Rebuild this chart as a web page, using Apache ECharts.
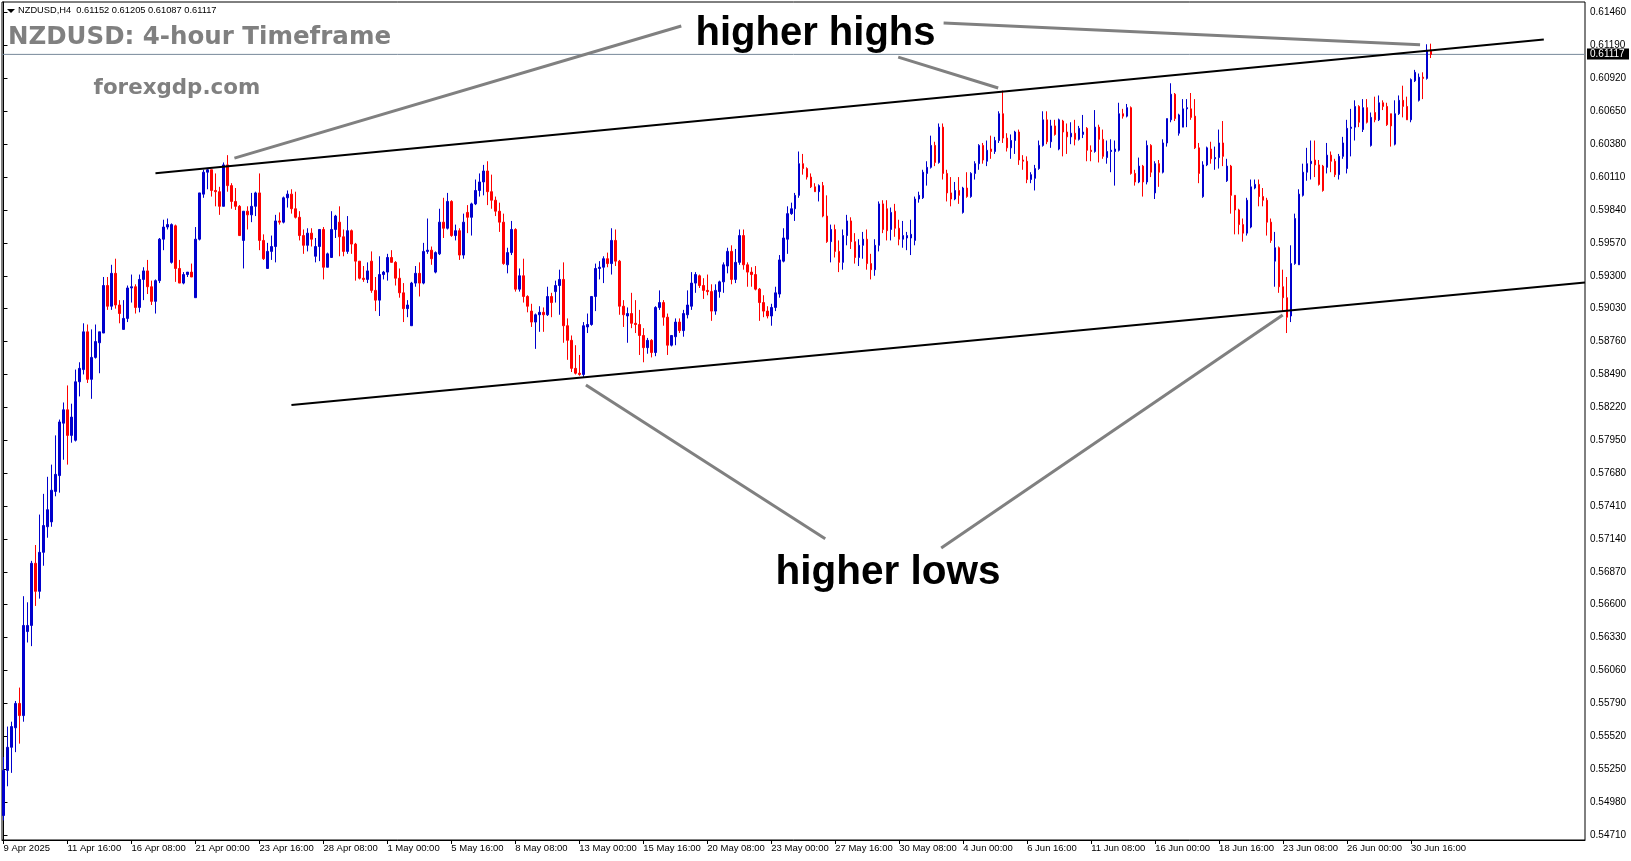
<!DOCTYPE html>
<html><head><meta charset="utf-8">
<script src="https://cdn.jsdelivr.net/npm/echarts@6/dist/echarts.min.js"></script>
<style>html,body{margin:0;padding:0;background:#fff}#c{width:1631px;height:861px}</style>
</head><body><div id="c"></div>
<script>
// ---- data (NZDUSD H4 candles) ----
const opens=[
.5487,.5524,.5543,.5559,.5579,.5569,.5638,.5643,.5694,.5671,
.5703,.5724,.5728,.5753,.5766,.5809,.5820,.5799,.5795,.5843,
.5853,.5884,.5845,.5863,.5875,.5883,.5922,.5905,.5932,.5906,
.5886,.5895,.5920,.5921,.5904,.5927,.5934,.5921,.5909,.5926,
.5960,.5970,.5941,.5971,.5936,.5924,.5931,.5933,.5912,.5960,
.5997,.6015,.6017,.6000,.5999,.5987,.6021,.6004,.5991,.5987,
.5959,.5983,.5980,.5987,.5998,.5959,.5936,.5950,.5954,.5975,
.5974,.5994,.5997,.5985,.5978,.5963,.5955,.5965,.5946,.5954,
.5968,.5937,.5945,.5968,.5974,.5962,.5950,.5967,.5956,.5942,
.5928,.5927,.5942,.5918,.5910,.5931,.5933,.5945,.5941,.5928,
.5916,.5903,.5889,.5924,.5932,.5924,.5950,.5951,.5933,.5948,
.5974,.5969,.5991,.5963,.5967,.5947,.5982,.5978,.5989,.6000,
.6007,.6016,.5999,.5992,.5983,.5974,.5939,.5949,.5968,.5919,
.5930,.5913,.5901,.5892,.5898,.5900,.5898,.5913,.5917,.5922,
.5927,.5889,.5877,.5854,.5850,.5849,.5888,.5890,.5913,.5936,
.5937,.5944,.5940,.5959,.5942,.5905,.5897,.5899,.5891,.5890,
.5881,.5871,.5877,.5867,.5904,.5908,.5896,.5873,.5880,.5892,
.5885,.5898,.5905,.5924,.5930,.5922,.5918,.5917,.5901,.5917,
.5925,.5938,.5950,.5927,.5941,.5963,.5939,.5933,.5931,.5919,
.5908,.5901,.5897,.5904,.5915,.5942,.5960,.5981,.5985,.5996,
.6022,.6018,.6011,.6003,.5999,.6004,.5979,.5958,.5968,.5950,
.5941,.5963,.5975,.5958,.5945,.5955,.5960,.5940,.5935,.5955,
.5989,.5985,.5968,.5983,.5969,.5960,.5961,.5961,.5959,.5993,
.5994,.6014,.6019,.6037,.6023,.6052,.6014,.5998,.5993,.6000,
.5982,.6002,.5995,.6014,.6022,.6037,.6024,.6034,.6032,.6041,
.6063,.6043,.6035,.6041,.6048,.6025,.6024,.6009,.6010,.6018,
.6037,.6058,.6040,.6053,.6034,.6057,.6048,.6044,.6047,.6042,
.6046,.6051,.6033,.6032,.6052,.6042,.6027,.6032,.6032,.6033,
.6063,.6061,.6068,.6014,.6007,.6020,.6007,.6037,.5998,.6022,
.6015,.6039,.6058,.6079,.6047,.6052,.6067,.6067,.6061,.6035,
.5995,.6021,.6034,.6026,.6027,.6039,.6008,.6020,.5996,.5984,
.5972,.5965,.5970,.6002,.6005,.5995,.5992,.5974,.5942,.5953,
.5921,.5912,.5897,.5940,.5939,.5996,.6015,.6022,.6025,.6021,
.6020,.6019,.6029,.6024,.6013,.6028,.6018,.6051,.6052,.6069,
.6050,.6068,.6037,.6064,.6058,.6072,.6069,.6063,.6038,.6063,
.6074,.6069,.6058,.6090,.6074,.6093,.6092,.61152];
const highs=[
.5535,.5560,.5564,.5581,.5592,.5667,.5662,.5696,.5709,.5734,
.5751,.5765,.5775,.5799,.5812,.5826,.5840,.5825,.5853,.5859,
.5891,.5890,.5886,.5890,.5884,.5929,.5929,.5939,.5944,.5910,
.5910,.5922,.5931,.5923,.5931,.5937,.5943,.5926,.5927,.5961,
.5976,.5977,.5973,.5972,.5943,.5933,.5933,.5940,.5970,.5998,
.6017,.6018,.6017,.6014,.6003,.6023,.6029,.6006,.6002,.5988,
.5983,.5987,.5998,.5999,.6014,.5964,.5957,.5963,.5980,.5982,
.5995,.6000,.6001,.5999,.5983,.5968,.5969,.5969,.5961,.5968,
.5970,.5949,.5983,.5980,.5987,.5968,.5979,.5968,.5957,.5942,
.5938,.5941,.5950,.5929,.5946,.5934,.5948,.5951,.5942,.5936,
.5924,.5910,.5925,.5938,.5941,.5957,.5977,.5954,.5950,.5985,
.5994,.5998,.5992,.5972,.5969,.5981,.5988,.5990,.6009,.6014,
.6021,.6024,.6013,.5995,.5990,.5981,.5953,.5975,.5969,.5936,
.5944,.5914,.5907,.5899,.5905,.5904,.5921,.5916,.5926,.5935,
.5941,.5895,.5881,.5873,.5865,.5892,.5899,.5913,.5940,.5942,
.5946,.5949,.5969,.5968,.5943,.5910,.5904,.5916,.5910,.5902,
.5887,.5879,.5878,.5905,.5918,.5910,.5899,.5881,.5895,.5895,
.5902,.5918,.5933,.5933,.5931,.5928,.5931,.5923,.5923,.5926,
.5941,.5953,.5955,.5952,.5968,.5968,.5941,.5937,.5938,.5920,
.5914,.5905,.5907,.5921,.5947,.5969,.5987,.5990,.5998,.6032,
.6030,.6019,.6014,.6006,.6005,.6007,.5996,.5972,.5972,.5959,
.5968,.5980,.5978,.5965,.5960,.5966,.5968,.5948,.5960,.5991,
.5992,.5992,.5986,.5989,.5976,.5975,.5966,.5976,.5995,.5999,
.6017,.6024,.6045,.6040,.6055,.6055,.6017,.6011,.6007,.6011,
.6003,.6015,.6015,.6024,.6038,.6039,.6041,.6045,.6044,.6065,
.6082,.6047,.6046,.6049,.6050,.6029,.6028,.6015,.6021,.6041,
.6065,.6065,.6058,.6058,.6059,.6058,.6055,.6056,.6058,.6053,
.6062,.6052,.6037,.6066,.6054,.6050,.6041,.6042,.6041,.6072,
.6067,.6071,.6069,.6017,.6027,.6021,.6041,.6038,.6024,.6025,
.6042,.6059,.6088,.6080,.6063,.6075,.6075,.6080,.6075,.6039,
.6024,.6036,.6040,.6036,.6050,.6057,.6026,.6021,.5996,.5985,
.5977,.5994,.6009,.6009,.6009,.6002,.5994,.5977,.5966,.5954,
.5935,.5929,.5955,.5981,.6001,.6022,.6035,.6041,.6041,.6025,
.6021,.6039,.6032,.6026,.6030,.6044,.6058,.6067,.6074,.6070,
.6075,.6075,.6064,.6077,.6078,.6074,.6072,.6063,.6074,.6078,
.6086,.6077,.6092,.6099,.6096,.6097,.6120,.61205];
const lows=[
.5483,.5511,.5522,.5539,.5546,.5564,.5629,.5626,.5659,.5665,
.5692,.5715,.5724,.5749,.5752,.5779,.5775,.5793,.5794,.5831,
.5849,.5842,.5829,.5862,.5850,.5883,.5902,.5902,.5903,.5891,
.5886,.5892,.5908,.5899,.5900,.5910,.5915,.5906,.5899,.5924,
.5951,.5968,.5940,.5925,.5924,.5923,.5929,.5929,.5912,.5959,
.5994,.6001,.5995,.5987,.5980,.5987,.5999,.5985,.5984,.5963,
.5936,.5968,.5974,.5979,.5951,.5943,.5936,.5943,.5941,.5972,
.5973,.5986,.5981,.5977,.5959,.5948,.5950,.5954,.5941,.5942,
.5927,.5937,.5945,.5961,.5946,.5946,.5948,.5948,.5926,.5927,
.5925,.5924,.5916,.5901,.5897,.5927,.5926,.5941,.5922,.5912,
.5892,.5896,.5889,.5921,.5913,.5923,.5948,.5939,.5932,.5947,
.5961,.5968,.5962,.5959,.5943,.5944,.5965,.5963,.5988,.5995,
.5996,.5988,.5985,.5979,.5966,.5939,.5932,.5947,.5917,.5917,
.5908,.5900,.5888,.5870,.5884,.5884,.5897,.5896,.5908,.5898,
.5875,.5861,.5851,.5849,.5848,.5847,.5883,.5889,.5901,.5927,
.5924,.5937,.5931,.5938,.5898,.5888,.5875,.5887,.5883,.5865,
.5859,.5866,.5863,.5864,.5902,.5889,.5865,.5872,.5873,.5883,
.5880,.5895,.5902,.5916,.5920,.5911,.5914,.5893,.5898,.5912,
.5916,.5932,.5923,.5924,.5939,.5935,.5921,.5921,.5918,.5893,
.5896,.5895,.5889,.5901,.5912,.5941,.5948,.5980,.5975,.5994,
.6013,.6009,.6002,.5999,.5991,.5978,.5957,.5941,.5945,.5933,
.5935,.5955,.5952,.5940,.5938,.5944,.5935,.5927,.5930,.5950,
.5965,.5959,.5959,.5962,.5955,.5953,.5951,.5947,.5955,.5990,
.5993,.6004,.6018,.6020,.6022,.6009,.5991,.5987,.5992,.5989,
.5981,.5994,.5994,.6009,.6017,.6022,.6020,.6026,.6030,.6039,
.6039,.6032,.6026,.6030,.6021,.6017,.6006,.6006,.6000,.6017,
.6036,.6038,.6035,.6045,.6033,.6028,.6030,.6038,.6037,.6041,
.6043,.6024,.6024,.6031,.6023,.6026,.6022,.6015,.6004,.6032,
.6059,.6060,.6013,.6004,.6006,.5995,.6005,.6011,.5993,.6003,
.6014,.6036,.6056,.6057,.6045,.6052,.6052,.6058,.6034,.6006,
.5994,.6020,.6022,.6017,.6018,.6020,.6007,.5981,.5964,.5964,
.5958,.5963,.5969,.6001,.5987,.5987,.5963,.5957,.5921,.5916,
.5901,.5883,.5892,.5939,.5939,.5995,.6008,.6009,.6011,.6004,
.5999,.6014,.6015,.6011,.6009,.6026,.6014,.6028,.6041,.6052,
.6048,.6055,.6036,.6056,.6057,.6066,.6053,.6036,.6037,.6062,
.6060,.6058,.6056,.6089,.6073,.6075,.6091,.61087];
const closes=[
.5524,.5543,.5560,.5579,.5569,.5643,.5643,.5694,.5671,.5703,
.5725,.5738,.5754,.5767,.5810,.5820,.5799,.5814,.5843,.5854,
.5884,.5845,.5863,.5876,.5884,.5922,.5905,.5932,.5906,.5899,
.5895,.5920,.5921,.5904,.5927,.5934,.5921,.5909,.5926,.5960,
.5970,.5972,.5972,.5936,.5924,.5931,.5933,.5929,.5960,.5998,
.6015,.6017,.6000,.5999,.5987,.6021,.6004,.5991,.5987,.5963,
.5983,.5980,.5987,.5998,.5959,.5944,.5950,.5954,.5975,.5974,
.5994,.5997,.5985,.5978,.5963,.5955,.5965,.5960,.5954,.5968,
.5937,.5948,.5968,.5979,.5962,.5950,.5967,.5956,.5942,.5928,
.5927,.5934,.5918,.5910,.5931,.5933,.5945,.5941,.5928,.5916,
.5903,.5906,.5924,.5932,.5924,.5950,.5951,.5944,.5949,.5974,
.5969,.5991,.5963,.5967,.5947,.5974,.5978,.5989,.6000,.6007,
.6016,.5999,.5992,.5983,.5974,.5940,.5949,.5968,.5919,.5930,
.5913,.5905,.5892,.5898,.5900,.5898,.5913,.5908,.5922,.5927,
.5889,.5877,.5854,.5850,.5849,.5889,.5890,.5913,.5936,.5937,
.5944,.5940,.5959,.5942,.5905,.5898,.5899,.5891,.5890,.5881,
.5871,.5877,.5867,.5904,.5908,.5896,.5873,.5881,.5892,.5885,
.5899,.5906,.5924,.5931,.5922,.5918,.5917,.5901,.5918,.5925,
.5939,.5950,.5927,.5941,.5963,.5939,.5933,.5931,.5919,.5908,
.5901,.5897,.5904,.5916,.5943,.5961,.5981,.5985,.5996,.6022,
.6018,.6011,.6003,.5999,.6004,.5979,.5958,.5968,.5950,.5941,
.5963,.5975,.5958,.5945,.5955,.5960,.5940,.5935,.5955,.5989,
.5968,.5967,.5982,.5969,.5960,.5963,.5963,.5964,.5993,.5996,
.6015,.6019,.6037,.6023,.6052,.6014,.5998,.5993,.6000,.5996,
.6002,.5995,.6014,.6022,.6037,.6025,.6033,.6032,.6041,.6063,
.6043,.6035,.6041,.6048,.6025,.6024,.6009,.6013,.6018,.6037,
.6058,.6040,.6053,.6046,.6058,.6048,.6044,.6047,.6042,.6051,
.6048,.6033,.6032,.6052,.6042,.6028,.6032,.6033,.6034,.6063,
.6061,.6068,.6014,.6007,.6020,.6007,.6037,.6015,.6022,.6015,
.6039,.6059,.6079,.6059,.6062,.6067,.6068,.6060,.6035,.6014,
.6021,.6035,.6026,.6027,.6039,.6028,.6020,.5996,.5984,.5972,
.5965,.5992,.6003,.6005,.5995,.5992,.5974,.5959,.5953,.5921,
.5912,.5896,.5940,.5977,.5997,.6015,.6022,.6024,.6021,.6005,
.6000,.6029,.6024,.6013,.6028,.6039,.6051,.6052,.6069,.6056,
.6068,.6056,.6060,.6058,.6072,.6069,.6054,.6053,.6063,.6074,
.6069,.6058,.6091,.6097,.6093,.6092,.6115,.61117];

const xTickLabels=['9 Apr 2025','11 Apr 16:00','16 Apr 08:00','21 Apr 00:00','23 Apr 16:00','28 Apr 08:00','1 May 00:00','5 May 16:00','8 May 08:00','13 May 00:00','15 May 16:00','20 May 08:00','23 May 00:00','27 May 16:00','30 May 08:00','4 Jun 00:00','6 Jun 16:00','11 Jun 08:00','16 Jun 00:00','18 Jun 16:00','23 Jun 08:00','26 Jun 00:00','30 Jun 16:00'];
const barsPerLabel=16;
const yTicks=[0.5471,0.5498,0.5525,0.5552,0.5579,0.5606,0.5633,0.5660,0.5687,0.5714,0.5741,0.5768,0.5795,0.5822,0.5849,0.5876,0.5903,0.5930,0.5957,0.5984,0.6011,0.6038,0.6065,0.6092,0.6119,0.6146];
const lastQuote={open:0.61152,high:0.61205,low:0.61087,close:0.61117};

// annotation lines in chart coordinates [bar index, price]
const upperTrend=[[38,0.60141],[385.2,0.61240]];
const lowerTrend=[[72,0.58239],[395.5,0.59245]];
const ptrHighLeft=[[57.75,0.60266],[169.5,0.61350]];
const ptrHighMid=[[223.75,0.61095],[248.75,0.60841]];
const ptrHighRight=[[235.1,0.61374],[354.25,0.61196]];
const ptrLowLeft=[[145.65,0.58404],[205.5,0.57141]];
const ptrLowRight=[[234.5,0.57066],[319.9,0.58978]];

const candles=opens.map((o,i)=>[i,o,closes[i],lows[i],highs[i]]);
const xTickVals=xTickLabels.map((_,k)=>k*barsPerLabel);
const X_MIN=-0.375, X_MAX=395.5, Y_MIN=0.54669, Y_MAX=0.61547;

const chart=echarts.init(document.getElementById('c'),null,{renderer:'canvas'});
const FONT='"Liberation Sans", Arial, sans-serif';
function lineSeries(data,color,width){
  return {type:'line',data:data,symbol:'none',silent:true,z:5,clip:true,
    lineStyle:{color:color,width:width,type:'solid'},animation:false};
}
chart.setOption({
  animation:false,
  backgroundColor:'#ffffff',
  grid:{left:2,right:46,top:2,bottom:21,show:true,borderColor:'#000',borderWidth:1,backgroundColor:'#fff',outerBoundsMode:'none',containLabel:false},
  xAxis:{type:'value',min:X_MIN,max:X_MAX,position:'bottom',
    axisLine:{show:true,lineStyle:{color:'#000',width:1}},
    axisTick:{show:true,inside:false,length:4,customValues:xTickVals,lineStyle:{color:'#000'}},
    axisLabel:{show:true,customValues:xTickVals,formatter:v=>xTickLabels[Math.round(v/barsPerLabel)],
      align:'left',margin:3,color:'#000',fontSize:9.5,fontFamily:FONT,hideOverlap:false},
    splitLine:{show:false}},
  yAxis:{type:'value',min:Y_MIN,max:Y_MAX,position:'right',
    axisLine:{show:true,lineStyle:{color:'#000',width:1}},
    axisTick:{show:true,inside:false,length:4,customValues:yTicks,lineStyle:{color:'#000'}},
    axisLabel:{show:true,customValues:yTicks,formatter:v=>v.toFixed(5),margin:5,color:'#000',fontSize:10,fontFamily:FONT,hideOverlap:false},
    splitLine:{show:false}},
  series:[
    // current bid line (drawn first so candles sit on top)
    {type:'line',data:[[X_MIN,lastQuote.close],[X_MAX,lastQuote.close]],symbol:'none',silent:true,z:1,
      lineStyle:{color:'#778899',width:1}},
    {type:'candlestick',data:candles,encode:{x:0,y:[1,2,3,4]},barWidth:2,z:2,silent:true,
      itemStyle:{color:'#0000cd',color0:'#ff0000',borderColor:'#0000cd',borderColor0:'#ff0000',borderWidth:1}},
    lineSeries(upperTrend,'#000',2),
    lineSeries(lowerTrend,'#000',2),
    lineSeries(ptrHighLeft,'#808080',3),
    lineSeries(ptrHighMid,'#808080',3),
    lineSeries(ptrHighRight,'#808080',3),
    lineSeries(ptrLowLeft,'#808080',3),
    lineSeries(ptrLowRight,'#808080',3)
  ],
  graphic:[
    {type:'polygon',shape:{points:[[7,9],[15,9],[11,13]]},style:{fill:'#000'},z:100},
    {type:'text',x:18,y:10.5,z:100,style:{text:'NZDUSD,H4  '+[lastQuote.open,lastQuote.high,lastQuote.low,lastQuote.close].map(v=>v.toFixed(5)).join(' '),
      font:'9.3px '+FONT,fill:'#000',verticalAlign:'middle'}},
    {type:'text',x:8,y:38,z:100,style:{text:'NZDUSD: 4-hour Timeframe',font:'bold 24.5px "DejaVu Sans"',fill:'#808080',verticalAlign:'middle'}},
    {type:'text',x:93.6,y:88.5,z:100,style:{text:'forexgdp.com',font:'bold 21.4px "DejaVu Sans"',fill:'#808080',verticalAlign:'middle'}},
    {type:'text',x:815.5,y:34,z:100,style:{text:'higher highs',font:'bold 40px '+FONT,fill:'#000',align:'center',verticalAlign:'middle'}},
    {type:'text',x:888,y:573,z:100,style:{text:'higher lows',font:'bold 40.5px '+FONT,fill:'#000',align:'center',verticalAlign:'middle'}}
  ]
});
// current price tag on the price scale, placed through the axis scale
const tagY=chart.convertToPixel({yAxisIndex:0},lastQuote.close);
const tagX=chart.convertToPixel({xAxisIndex:0},X_MAX);
chart.setOption({graphic:[
  {type:'rect',id:'tagBox',shape:{x:tagX+2,y:Math.round(tagY)-5.5,width:42,height:11},style:{fill:'#000'},z:110},
  {type:'text',id:'tagText',x:tagX+5,y:Math.round(tagY)+0.5,z:111,style:{text:lastQuote.close.toFixed(5),font:'10px '+FONT,fill:'#fff',verticalAlign:'middle'}}
]});
</script></body></html>
